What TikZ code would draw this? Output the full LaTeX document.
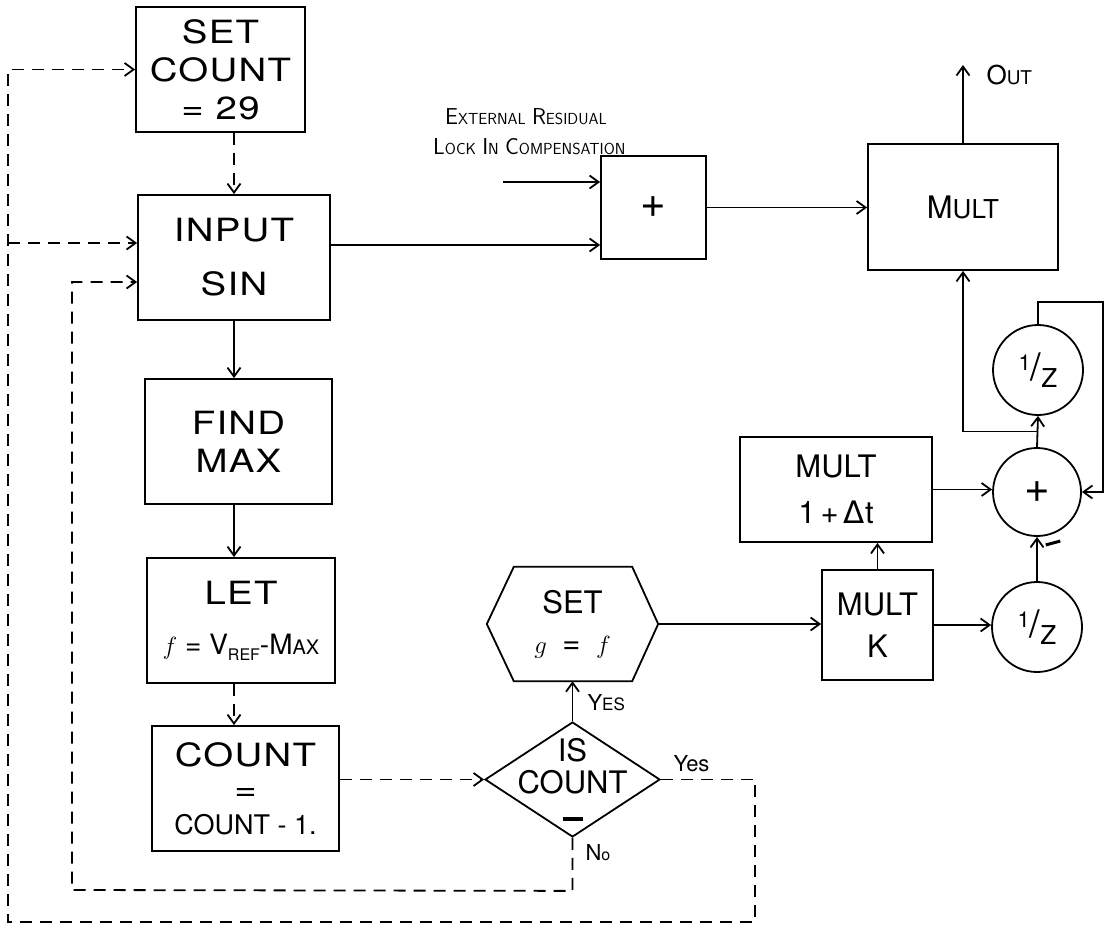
\documentclass[tikz,border=0pt]{standalone}
\usepackage{fontspec}
\newfontfamily\symfont{DejaVu Sans}
\newfontfamily\handfont{TeX Gyre Heros}[FakeStretch=1.2, LetterSpace=4]
\newfontfamily\plainfont{TeX Gyre Heros}
\usetikzlibrary{shapes.geometric, arrows.meta, calc}

\newcommand{\blkfont}{\handfont\fontsize{32}{38}\selectfont}
\newcommand{\rtfont}{\plainfont\fontsize{31}{38}\selectfont}
\newcommand{\capsc}[2]{{\fontsize{23}{30}\selectfont #1}{\fontsize{16}{30}\selectfont #2}}
\newcommand{\invz}{\raisebox{10pt}{\fontsize{22}{22}\selectfont 1}{\fontsize{38}{38}\selectfont /}\raisebox{-7pt}{\fontsize{26}{26}\selectfont Z}}
\newcommand{\bigplus}{{\fontsize{44}{44}\selectfont +}}

\begin{document}
\begin{tikzpicture}[x=1pt, y=-1pt,
    ln/.style={line width=1.8pt},
    blk/.style={draw, ln, align=center, inner sep=0pt, font=\blkfont},
    rblk/.style={blk, font=\rtfont},
    ring/.style={draw, ln, circle, inner sep=0pt, minimum size=90pt, font=\rtfont},
    dsh/.style={ln, dash pattern=on 12pt off 8pt},
    >={Straight Barb[length=9pt,width=13pt]}]
    \useasboundingbox (0,0) rectangle (1105,926);

    % left column
    \node(setc)[blk, minimum width=169pt, minimum height=125pt] at (220.5,69.5) {SET\\COUNT\\= 29};
    \node(input)[blk, minimum width=192pt, minimum height=125pt] at (234,257.5) {INPUT\\[16pt]SIN};
    \node(findmax)[blk, minimum width=187pt, minimum height=125pt] at (238.5,441.5) {FIND\\MAX};
    \node(let)[blk, minimum width=188pt, minimum height=125pt] at (241,620.5) {LET\\[12pt]{\plainfont\fontsize{28}{36}\selectfont $f$ = V\raisebox{-6pt}{\fontsize{16}{20}\selectfont REF}-M{\fontsize{20}{20}\selectfont AX}}};
    \node(count)[blk, minimum width=187pt, minimum height=125pt] at (245.5,788.5) {COUNT\\[-4pt]=\\[-4pt]{\plainfont\fontsize{27}{34}\selectfont COUNT - 1.}};

    % decision and set
    \node(isct)[diamond, draw, ln, minimum width=175pt, minimum height=115pt, inner sep=0pt,
        label={[font=\rtfont, align=center]center:IS\\[-6pt]COUNT\\[-10pt]\rule{20pt}{4pt}}] at (572.5,779.5) {};
    \node(hex)[font=\rtfont, align=center, inner sep=0pt, minimum width=171pt, minimum height=114pt] at (572.5,624) {SET\\[2pt]$g$\enspace=\enspace$f$};
    \draw[ln] (hex.west) -- ([xshift=27pt]hex.north west) -- ([xshift=-26pt]hex.north east)
        -- (hex.east) -- ([xshift=-26pt]hex.south east) -- ([xshift=27pt]hex.south west) -- cycle;

    % right side
    \node(plus)[rblk, minimum width=105pt, minimum height=103pt] at (653.5,207.5) {\bigplus};
    \node(mult)[rblk, minimum width=190pt, minimum height=126pt] at (963,207) {M{\fontsize{26}{30}\selectfont ULT}};
    \node(multdt)[rblk, minimum width=192pt, minimum height=105pt] at (836,489.5) {MULT\\[8pt]1\,+\,{\symfont Δ}t};
    \node(multk)[rblk, minimum width=111pt, minimum height=110pt] at (877.5,625) {MULT\\[4pt]K};
    \node(invzt)[ring] at (1038,370) {\invz};
    \node(sum)[ring, minimum size=88pt] at (1037,492) {\bigplus};
    \node(invzb)[ring] at (1037,627) {\invz};

    % labels
    \coordinate (outp) at (965,65);
    \node(outlbl)[anchor=west, font=\plainfont] at (983,75) {{\fontsize{26}{30}\selectfont O}{\fontsize{19}{30}\selectfont UT}};
    \node(extlbl)[anchor=north west, align=left, inner sep=0pt, font=\sffamily\fontsize{20}{30}\selectfont] at (433,108)
        {\hspace*{12pt}\capsc{E}{XTERNAL} \capsc{R}{ESIDUAL}\\\capsc{L}{OCK} \capsc{I}{N} \capsc{C}{OMPENSATION}};
    \node(yesup)[anchor=west, font=\plainfont] at (584,703) {{\fontsize{22}{26}\selectfont Y}{\fontsize{17}{26}\selectfont ES}};
    \node(yesrt)[anchor=west, font=\plainfont\fontsize{22}{26}\selectfont] at (670,764) {Yes};
    \node(nolbl)[anchor=west, font=\plainfont] at (582,853) {{\fontsize{22}{26}\selectfont N}{\fontsize{16}{26}\selectfont o}};
    \node(minus)[rotate=15] at (1053,543) {\rule{15pt}{3pt}};

    % main flow
    \draw[dsh,->] (setc.south -| input.north) -- (input.north);
    \draw[ln,->] (input.south) -- (input.south |- findmax.north);
    \draw[ln,->] (input.south |- findmax.south) -- (input.south |- let.north);
    \draw[dsh,->] (input.south |- let.south) -- (input.south |- count.north);
    \draw[dsh,->] (count.east |- isct.west) -- (isct.west);
    \draw[ln,->] (isct.north) -- (isct.north |- hex.south);
    \draw[ln,->] (hex.east) -- (hex.east -| multk.west);

    % loops back
    \coordinate (loR) at (755,922);
    \coordinate (loL) at (8,922);
    \coordinate (inA) at ([yshift=14.5pt]input.west);
    \coordinate (inB) at ([yshift=-24.5pt]input.west);
    \coordinate (liR) at ([yshift=-53pt]isct.south);
    \coordinate (liL) at (72,890);
    \draw[dsh,->] (isct.east) -| (loR) -- (loL) |- (setc.west);
    \draw[dsh,->] (loL |- inA) -- (inA);
    \draw[dsh,->] (isct.south) -- (liR) -- (liL) |- (inB);

    % signal path
    \coordinate (extin) at (503,182);
    \coordinate (plin) at ([yshift=-37.5pt]plus.west);
    \draw[ln,->] (extin) -- (extin -| plus.west);
    \draw[ln,->] (plin -| input.east) -- (plin);
    \draw[ln,->] (plus.east) -- (plus.east -| mult.west);
    \draw[ln,->] (mult.north) -- (mult.north |- outp);
    \draw[ln,->] (multk.north) -- (multk.north |- multdt.south);
    \draw[ln,->] (multk.east) -- (multk.east -| invzb.west);
    \draw[ln,->] (multdt.east) -- (multdt.east -| sum.west);
    \draw[ln,->] (invzb.north) -- (sum.south);
    \draw[ln,->] (sum.north) -- (invzt.south);
    \coordinate (jn) at ($(sum.north)!0.5!(invzt.south)$);
    \draw[ln,->] (jn) -| (mult.south);
    \coordinate (fbk) at (1103,302);
    \draw[ln,->] (invzt.north) |- (fbk) |- (sum.east);
\end{tikzpicture}
\end{document}
